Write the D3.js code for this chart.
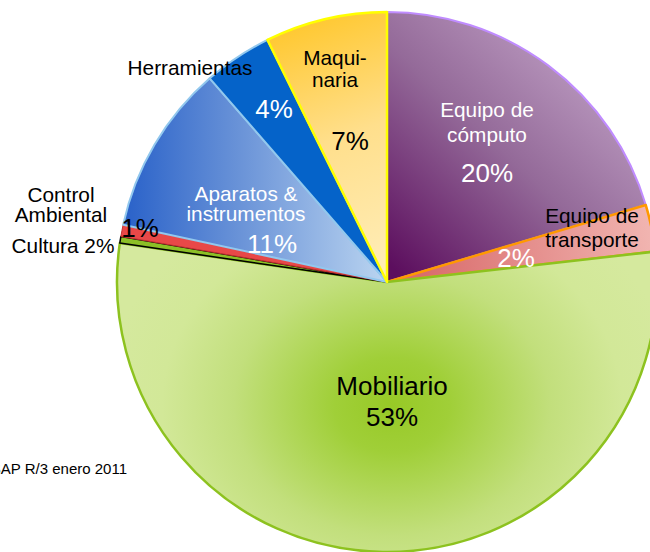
<!DOCTYPE html>
<html>
<head>
<meta charset="utf-8">
<script src="https://cdn.jsdelivr.net/npm/d3@7"></script>
<style>
  html, body { margin: 0; padding: 0; background: #fff; overflow: hidden; }
  svg { display: block; font-family: "Liberation Sans", Arial, sans-serif; }
</style>
</head>
<body>
<svg id="chart" width="650" height="552"></svg>
<script>
// slice shares, clockwise from 12 o'clock
const categories = ["Equipo de cómputo", "Equipo de transporte", "Mobiliario", "Cultura",
  "Control Ambiental", "Aparatos & instrumentos", "Herramientas", "Maquinaria"];
const values = [20.4, 2.8, 54.1, 0.4, 0.7, 10.2, 4.1, 7.3];
// percentages as printed on the chart
const pctLabels = ["20%", "2%", "53%", "2%", "1%", "11%", "4%", "7%"];
const source = "SAP R/3 enero 2011";

const svg = d3.select('#chart');
const cx = 387, cy = 282, radius = 270;

const defs = svg.append('defs');
// gradients live in the pie group's space, so shift page coords by the centre
function linear(id, x1, y1, x2, y2, stops) {
  const g = defs.append('linearGradient').attr('id', id)
    .attr('gradientUnits', 'userSpaceOnUse')
    .attr('x1', x1 - cx).attr('y1', y1 - cy).attr('x2', x2 - cx).attr('y2', y2 - cy);
  stops.forEach(s => g.append('stop').attr('offset', s[0]).attr('stop-color', s[1]));
}
linear('gComp', 400, 275, 620, 40, [[0, '#5c0e5e'], [0.5, '#946a99'], [1, '#c6a8cb']]);
linear('gTrans', 420, 270, 650, 240, [[0, '#d96c6c'], [1, '#f1b4b0']]);
linear('gApar', 125, 200, 385, 200, [[0, '#2a62c9'], [0.45, '#6b94d8'], [1, '#bad4f0']]);
linear('gMaq', 290, 20, 380, 260, [[0, '#ffc72c'], [0.5, '#ffdf8c'], [1, '#ffecb4']]);
const rg = defs.append('radialGradient').attr('id', 'gMob')
  .attr('gradientUnits', 'userSpaceOnUse')
  .attr('cx', 0).attr('cy', 0).attr('r', 250)
  .attr('gradientTransform', `translate(${392 - cx},${405 - cy}) scale(1.15,0.95)`);
[[0, '#97c926'], [0.2, '#a0cf38'], [0.55, '#c2df7c'], [0.8, '#d2e898'], [1, '#d5e99e']]
  .forEach(s => rg.append('stop').attr('offset', s[0]).attr('stop-color', s[1]));

const fills = ['url(#gComp)', 'url(#gTrans)', 'url(#gMob)', '#8cbf26', '#e84848',
  'url(#gApar)', '#0563c9', 'url(#gMaq)'];
const strokes = ['#c08cff', '#ff9900', '#8dc21f', '#000000', '#c03030',
  '#92c8ee', '#92c8ee', '#ffff00'];
const strokeW = [2, 2.5, 2.5, 1.5, 1, 2, 2, 2.5];

const pie = d3.pie().sort(null).value(d => d)(values);
const arc = d3.arc().innerRadius(0).outerRadius(radius);

const g = svg.append('g').attr('transform', `translate(${cx},${cy})`);
g.selectAll('path')
  .data(pie)
  .join('path')
  .attr('d', arc)
  .attr('fill', (d, i) => fills[i])
  .attr('stroke', (d, i) => strokes[i])
  .attr('stroke-width', (d, i) => strokeW[i])
  .attr('stroke-linejoin', 'round');

// text placement per slice
const labelLayout = [
  { i: 0, lines: ['Equipo de', 'cómputo'], x: 487, y: 117, step: 25, pct: [487, 182], col: '#fff', pcol: '#fff' },
  { i: 1, lines: ['Equipo de', 'transporte'], x: 592, y: 223, step: 24, pct: [516, 267], col: '#000', pcol: '#fff' },
  { i: 2, lines: ['Mobiliario'], x: 392, y: 395, step: 0, pct: [392, 426], col: '#000', pcol: '#000', big: true },
  { i: 3, lines: ['Cultura ' + pctLabels[3]], x: 63, y: 253, step: 0, col: '#000' },
  { i: 4, lines: ['Control', 'Ambiental'], x: 61, y: 202, step: 20, pct: [140, 237], col: '#000', pcol: '#000' },
  { i: 5, lines: ['Aparatos &', 'instrumentos'], x: 246, y: 201, step: 19.5, pct: [272, 253], col: '#fff', pcol: '#fff' },
  { i: 6, lines: ['Herramientas'], x: 190, y: 75, step: 0, pct: [274, 118], col: '#000', pcol: '#fff' },
  { i: 7, lines: ['Maqui-', 'naria'], x: 335, y: 65, step: 22, pct: [350, 150], col: '#000', pcol: '#000' }
];

labelLayout.forEach(L => {
  const t = svg.append('text')
    .attr('x', L.x).attr('y', L.y)
    .attr('text-anchor', 'middle')
    .attr('font-size', L.big ? 26 : 20.8)
    .attr('fill', L.col);
  L.lines.forEach((line, k) => {
    t.append('tspan').attr('x', L.x).attr('y', L.y + k * L.step).text(line);
  });
  if (L.pct) {
    svg.append('text')
      .attr('x', L.pct[0]).attr('y', L.pct[1])
      .attr('text-anchor', 'middle')
      .attr('font-size', 26)
      .attr('fill', L.pcol)
      .text(pctLabels[L.i]);
  }
});

svg.append('text')
  .attr('x', 127).attr('y', 474)
  .attr('text-anchor', 'end')
  .attr('font-size', 15)
  .attr('fill', '#000')
  .text(source);
</script>
</body>
</html>
